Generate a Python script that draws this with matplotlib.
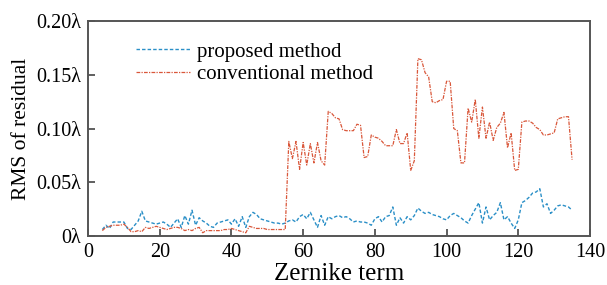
import matplotlib
matplotlib.use("Agg")
import matplotlib.pyplot as plt
import numpy as np

x_terms = list(range(4, 136))

proposed = [
    0.006, 0.010, 0.007, 0.013, 0.013, 0.013, 0.013, 0.007, 0.006, 0.010,  # 4-13
    0.014, 0.023, 0.014, 0.013, 0.012, 0.011, 0.012, 0.013, 0.011, 0.008,  # 14-23
    0.012, 0.016, 0.008, 0.019, 0.011, 0.024, 0.010, 0.017, 0.014, 0.012,  # 24-33
    0.009, 0.008, 0.012, 0.013, 0.014, 0.015, 0.011, 0.016, 0.009, 0.018,  # 34-43
    0.008, 0.018, 0.022, 0.020, 0.016, 0.015, 0.014, 0.013, 0.012, 0.012,  # 44-53
    0.011, 0.012, 0.014, 0.015, 0.013, 0.018, 0.020, 0.016, 0.022, 0.015,  # 54-63
    0.008, 0.019, 0.010, 0.018, 0.016, 0.018, 0.019, 0.017, 0.018, 0.016,  # 64-73
    0.013, 0.014, 0.013, 0.013, 0.012, 0.010, 0.016, 0.018, 0.013, 0.018,  # 74-83
    0.019, 0.027, 0.010, 0.017, 0.012, 0.018, 0.015, 0.019, 0.026, 0.023,  # 84-93
    0.021, 0.022, 0.020, 0.019, 0.018, 0.016, 0.015, 0.019, 0.021, 0.019,  # 94-103
    0.017, 0.014, 0.012, 0.019, 0.025, 0.031, 0.012, 0.027, 0.015, 0.019,  # 104-113
    0.022, 0.031, 0.015, 0.018, 0.012, 0.007, 0.015, 0.031, 0.033, 0.036,  # 114-123
    0.040, 0.041, 0.044, 0.027, 0.030, 0.021, 0.024, 0.028, 0.029, 0.028,  # 124-133
    0.027, 0.024,                                                          # 134-135
]

conventional = [
    0.005, 0.008, 0.009, 0.010, 0.010, 0.010, 0.011, 0.008, 0.004, 0.004,  # 4-13
    0.005, 0.004, 0.008, 0.007, 0.008, 0.009, 0.008, 0.007, 0.006, 0.007,  # 14-23
    0.008, 0.008, 0.007, 0.005, 0.006, 0.005, 0.007, 0.008, 0.003, 0.005,  # 24-33
    0.005, 0.005, 0.005, 0.005, 0.006, 0.006, 0.007, 0.006, 0.005, 0.004,  # 34-43
    0.003, 0.009, 0.008, 0.007, 0.007, 0.007, 0.006, 0.006, 0.006, 0.006,  # 44-53
    0.006, 0.006, 0.088, 0.072, 0.088, 0.062, 0.087, 0.066, 0.086, 0.068,  # 54-63
    0.087, 0.070, 0.066, 0.116, 0.114, 0.110, 0.109, 0.099, 0.098, 0.098,  # 64-73
    0.098, 0.104, 0.103, 0.073, 0.074, 0.094, 0.092, 0.091, 0.088, 0.084,  # 74-83
    0.084, 0.084, 0.099, 0.086, 0.086, 0.096, 0.061, 0.070, 0.165, 0.164,  # 84-93
    0.152, 0.148, 0.125, 0.124, 0.126, 0.127, 0.144, 0.144, 0.100, 0.098,  # 94-103
    0.068, 0.068, 0.119, 0.106, 0.127, 0.091, 0.120, 0.091, 0.106, 0.089,  # 104-113
    0.101, 0.105, 0.115, 0.082, 0.096, 0.061, 0.062, 0.106, 0.107, 0.107,  # 114-123
    0.105, 0.101, 0.099, 0.094, 0.094, 0.095, 0.096, 0.109, 0.110, 0.111,  # 124-133
    0.111, 0.071,                                                          # 134-135
]

y_ticks = [0, 0.05, 0.10, 0.15, 0.20]
y_tick_labels = ["0λ", "0.05λ", "0.10λ", "0.15λ", "0.20λ"]
x_ticks = [0, 20, 40, 60, 80, 100, 120, 140]

plt.rcParams["font.family"] = ["Liberation Serif", "DejaVu Serif"]

fig = plt.figure(figsize=(6.07, 2.85), dpi=100)
ax = fig.add_axes([0.145, 0.172, 0.827, 0.754])

ax.plot(x_terms, proposed, color="#2a8fc7", lw=1.0, linestyle=(0, (2.5, 1.5)),
        label="proposed method")
ax.plot(x_terms, conventional, color="#d9573a", lw=0.9,
        linestyle=(0, (3, 1, 1, 1)), label="conventional method")

ax.set_xlim(0, 140)
ax.set_ylim(0, 0.20)
ax.set_xticks(x_ticks)
ax.set_yticks(y_ticks)
ax.set_yticklabels(y_tick_labels)
ax.tick_params(direction="in", length=5, width=1.2, color="#444444",
               labelsize=14.5, top=False, right=False, pad=5)
for s in ax.spines.values():
    s.set_color("#555555")
    s.set_linewidth(1.4)

ax.set_xlabel("Zernike term", fontsize=18, labelpad=1)
ax.set_ylabel("RMS of residual", fontsize=15.5, labelpad=4)

leg = ax.legend(loc="upper left", bbox_to_anchor=(0.067, 0.97), frameon=False,
                fontsize=15, handlelength=2.6, handletextpad=0.3,
                labelspacing=0.15, borderaxespad=0.3)

fig.savefig("out.png", dpi=100)
